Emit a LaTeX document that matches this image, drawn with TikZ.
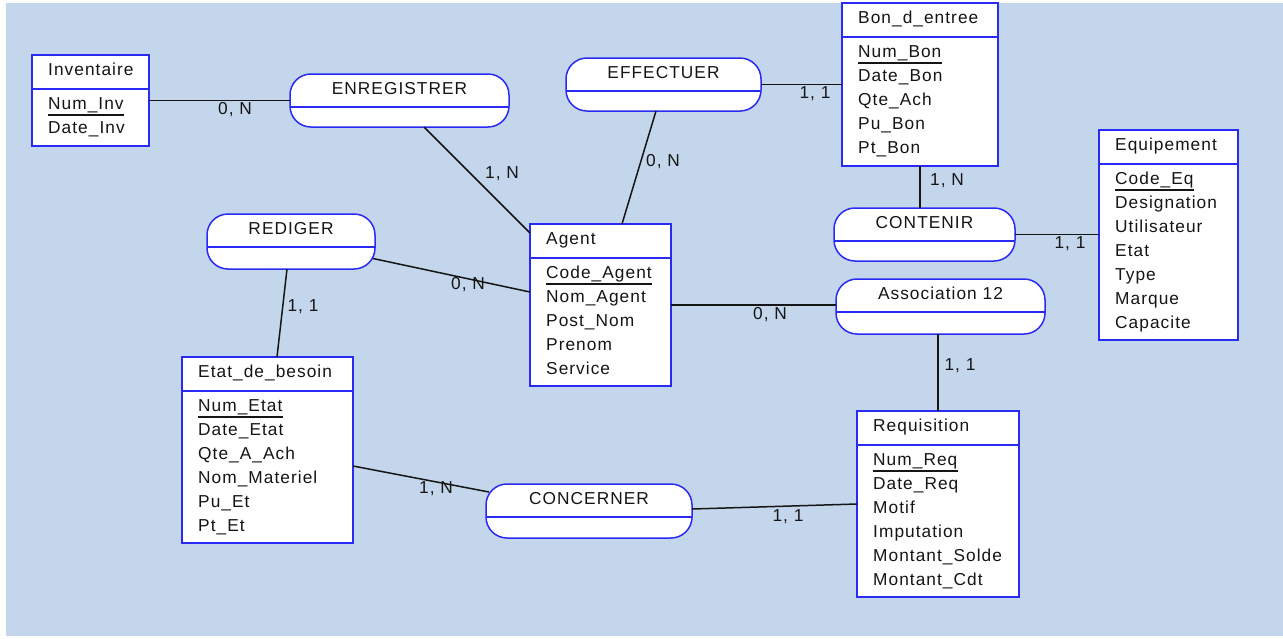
\documentclass[tikz,border=0pt]{standalone}
\usepackage{fontspec}
\newfontfamily\merfont{Liberation Sans}[LetterSpace=6]
\usetikzlibrary{calc}
\definecolor{fond}{HTML}{C4D6EB}
\definecolor{bordure}{HTML}{2A2AF5}
\definecolor{encre}{HTML}{151515}

\tikzset{
  ent/.style={draw=bordure, line width=1.5pt, fill=white, inner sep=0pt, outer sep=0pt, anchor=north west},
  assoc/.style={draw=bordure, line width=1.5pt, fill=white, rounded corners=21pt, inner sep=0pt, outer sep=0pt, anchor=north west},
  sepline/.style={draw=bordure, line width=1.5pt},
  lien/.style={draw=encre, line width=1.5pt},
  txt/.style={anchor=base west, inner sep=0pt, font=\merfont\fontsize{17.3}{20}\selectfont, text=encre},
  ctxt/.style={txt, anchor=base},
  card/.style={txt, anchor=center},
  cle/.style={draw=encre, line width=1.3pt},
}

% entity box: name, x, y, width, height, title, identifier
\newcommand\entite[7]{%
  \node[ent, minimum width=#4pt, minimum height=#5pt] (#1) at (#2,#3) {};
  \draw[sepline] ([yshift=-34pt]#1.north west) -- ([yshift=-34pt]#1.north east);
  \node[txt] (#1-t) at ([shift={(16pt,-20pt)}]#1.north west) {#6};
  \node[txt] (#1-k) at ([shift={(16pt,-54pt)}]#1.north west) {#7};
  \draw[cle] ([yshift=-6pt]#1-k.base west) -- ([yshift=-6pt]#1-k.base east);
}
% remaining attributes below the identifier
\newcommand\attributs[2]{%
  \foreach \a [count=\i] in {#2}
    \node[txt] at ([shift={(16pt,{-54pt-24pt*\i})}]#1.north west) {\a};
}
% association pill: name, x, y, width, height, title
\newcommand\relation[6]{%
  \node[assoc, minimum width=#4pt, minimum height=#5pt] (#1) at (#2,#3) {};
  \draw[sepline] ([yshift=-33pt]#1.north west) -- ([yshift=-33pt]#1.north east);
  \node[ctxt] (#1-t) at ([yshift=-20pt]#1.north) {#6};
}

\begin{document}
\begin{tikzpicture}[x=1pt,y=-1pt]
\useasboundingbox (0,0) rectangle (1283,638);
\fill[white] (0,0) rectangle (1283,638);
\fill[fond] (6,3) rectangle (1283,636);

% entities
\entite{inv}{32}{55}{117}{91}{Inventaire}{Num\_Inv}
\attributs{inv}{Date\_Inv}
\entite{bon}{842}{3}{156}{163}{Bon\_d\_entree}{Num\_Bon}
\attributs{bon}{Date\_Bon, Qte\_Ach, Pu\_Bon, Pt\_Bon}
\entite{equ}{1099}{130}{139}{210}{Equipement}{Code\_Eq}
\attributs{equ}{Designation, Utilisateur, Etat, Type, Marque, Capacite}
\entite{agent}{530}{224}{141}{162}{Agent}{Code\_Agent}
\attributs{agent}{Nom\_Agent, Post\_Nom, Prenom, Service}
\entite{etat}{182}{357}{171}{186}{Etat\_de\_besoin}{Num\_Etat}
\attributs{etat}{Date\_Etat, Qte\_A\_Ach, Nom\_Materiel, Pu\_Et, Pt\_Et}
\entite{req}{857}{411}{162}{186}{Requisition}{Num\_Req}
\attributs{req}{Date\_Req, Motif, Imputation, Montant\_Solde, Montant\_Cdt}

% associations
\relation{enr}{290}{74}{219}{53}{ENREGISTRER}
\relation{eff}{566}{58}{195}{53}{EFFECTUER}
\relation{red}{207}{214}{168}{55}{REDIGER}
\relation{cont}{834}{208}{181}{53}{CONTENIR}
\relation{asso}{836}{279}{209}{55}{Association 12}
\relation{conc}{486}{484}{206}{54}{CONCERNER}

% links
\draw[lien] (inv.east) -- (enr.west);
\draw[lien] ([xshift=24.5pt]enr.south) -- ([yshift=-9pt]agent.north west);
\draw[lien] ([xshift=-7.5pt]eff.south) -- ([xshift=21.5pt]agent.north);
\draw[lien] (eff.east) -- (eff.east -| bon.west);
\draw[lien] (bon.south) -- (bon.south |- cont.north);
\draw[lien] (cont.east) -- (cont.east -| equ.west);
\draw[lien] ([xshift=-4pt]red.south) -- ([xshift=9.5pt]etat.north);
\draw[lien] ([shift={(-2pt,-17pt)}]red.east) -- ([yshift=13pt]agent.west);
\draw[lien] (agent.east) -- (agent.east -| asso.west);
\draw[lien] (req.north |- asso.south) -- (req.north);
\draw[lien] ([yshift=-16pt]etat.east) -- ([shift={(3pt,19pt)}]conc.west);
\draw[lien] ([yshift=2pt]conc.east) -- (req.west);

% cardinalities
\node[card] (c1) at (235,110) {0, N};
\node[card] (c2) at (502,174) {1, N};
\node[card] (c3) at (663,162) {0, N};
\node[card] (c4) at (815,94) {1, 1};
\node[card] (c5) at (947,181) {1, N};
\node[card] (c6) at (1070,244) {1, 1};
\node[card] (c7) at (303,307) {1, 1};
\node[card] (c8) at (468,285) {0, N};
\node[card] (c9) at (770,315) {0, N};
\node[card] (c10) at (960,366) {1, 1};
\node[card] (c11) at (436,489) {1, N};
\node[card] (c12) at (788,517) {1, 1};
\end{tikzpicture}
\end{document}
